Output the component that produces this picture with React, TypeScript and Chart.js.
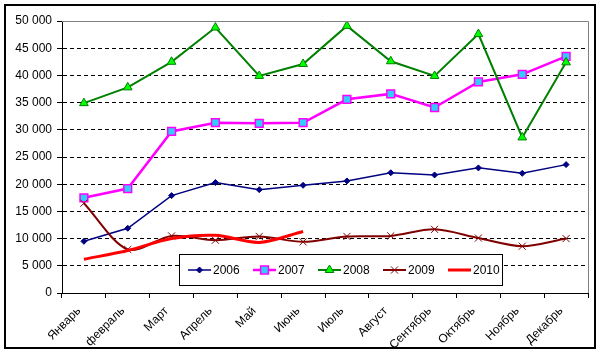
import React, { useEffect, useRef } from 'react';
import { Chart, registerables } from 'chart.js';

Chart.register(...registerables);

const months = ['Январь', 'февраль', 'Март', 'Апрель', 'Май', 'Июнь', 'Июль', 'Август', 'Сентябрь', 'Октябрь', 'Ноябрь', 'Декабрь'];
const seriesNames = ['2006', '2007', '2008', '2009', '2010'];
const s2006 = [9500, 11900, 17900, 20300, 19000, 19800, 20600, 22100, 21700, 23000, 22000, 23600];
const s2007 = [17500, 19200, 29700, 31300, 31200, 31300, 35600, 36600, 34100, 38800, 40200, 43500];
const s2008 = [34900, 37800, 42500, 48800, 39900, 42100, 49100, 42600, 39900, 47600, 28600, 42400];
const s2009 = [16500, 8000, 10500, 9700, 10400, 9400, 10400, 10500, 11700, 10100, 8600, 10000];
const s2010 = [6200, 7800, 10000, 10600, 9300, 11300];
const yMin = 0;
const yMax = 50000;
const yStep = 5000;

const FONT = 'Arial, "Liberation Sans", sans-serif';

const fmt = (v: number) => String(v).replace(/\B(?=(\d{3})+(?!\d))/g, ' ');

function drawMarker(ctx: CanvasRenderingContext2D, style: string, x: number, y: number, ds: any) {
  ctx.save();
  ctx.fillStyle = ds.pointBackgroundColor;
  ctx.strokeStyle = ds.pointBorderColor;
  ctx.lineWidth = ds.pointBorderWidth;
  const r = ds.pointRadius;
  ctx.beginPath();
  if (style === 'rectRot') {
    ctx.moveTo(x, y - r); ctx.lineTo(x + r, y); ctx.lineTo(x, y + r); ctx.lineTo(x - r, y); ctx.closePath();
    ctx.fill(); ctx.stroke();
  } else if (style === 'rect') {
    const s = r * Math.SQRT1_2;
    ctx.rect(x - s, y - s, 2 * s, 2 * s);
    ctx.fill(); ctx.stroke();
  } else if (style === 'triangle') {
    const w = r * Math.sqrt(3) / 2;
    ctx.moveTo(x, y - r); ctx.lineTo(x + w, y + r / 2); ctx.lineTo(x - w, y + r / 2); ctx.closePath();
    ctx.fill(); ctx.stroke();
  } else if (style === 'crossRot') {
    const s = r * Math.SQRT1_2;
    ctx.moveTo(x - s, y - s); ctx.lineTo(x + s, y + s);
    ctx.moveTo(x + s, y - s); ctx.lineTo(x - s, y + s);
    ctx.stroke();
  }
  ctx.restore();
}

const decorPlugin = {
  id: 'decor',
  afterDraw(chart: any) {
    const { ctx, chartArea } = chart;
    const { left, right, top, bottom } = chartArea;
    ctx.save();
    // plot area border (top & right)
    ctx.strokeStyle = '#808080';
    ctx.lineWidth = 1;
    ctx.beginPath();
    ctx.moveTo(left, Math.round(top) + 0.5);
    ctx.lineTo(Math.round(right) + 0.5, Math.round(top) + 0.5);
    ctx.lineTo(Math.round(right) + 0.5, bottom);
    ctx.stroke();

    // legend
    const bx = 179.5, by = 254.5, bw = 323, bh = 31;
    ctx.fillStyle = '#ffffff';
    ctx.fillRect(bx, by, bw, bh);
    ctx.strokeStyle = '#000';
    ctx.lineWidth = 1;
    ctx.strokeRect(bx, by, bw, bh);
    const ly = 270;
    chart.data.datasets.forEach((ds: any, i: number) => {
      const x0 = 188 + i * 65;
      const x1 = x0 + 23;
      ctx.save();
      ctx.strokeStyle = ds.borderColor;
      ctx.lineWidth = ds.borderWidth;
      ctx.beginPath();
      ctx.moveTo(x0, ly);
      ctx.lineTo(x1, ly);
      ctx.stroke();
      ctx.restore();
      if (ds.pointRadius > 0) drawMarker(ctx, ds.pointStyle, (x0 + x1) / 2, ly, ds);
      ctx.fillStyle = '#000';
      ctx.font = `12px ${FONT}`;
      ctx.textBaseline = 'middle';
      ctx.textAlign = 'left';
      ctx.fillText(ds.label, x1 + 2, ly + 0.5);
    });

    // outer border
    ctx.strokeStyle = '#000';
    ctx.lineWidth = 2;
    ctx.strokeRect(5, 5, 590, 343);
    ctx.restore();
  },
};

export default function App() {
  const ref = useRef<HTMLCanvasElement>(null);
  useEffect(() => {
    document.body.style.margin = '0';
    const canvas = ref.current!;
    const chart = new Chart(canvas, {
      type: 'line',
      data: {
        labels: months,
        datasets: [
          {
            label: seriesNames[0], data: s2006, borderColor: '#000080', borderWidth: 1.5,
            pointStyle: 'rectRot', pointRadius: 3, pointBackgroundColor: '#000080', pointBorderColor: '#000080', pointBorderWidth: 1,
            tension: 0, order: 5,
          },
          {
            label: seriesNames[1], data: s2007, borderColor: '#FF00FF', borderWidth: 2.5,
            pointStyle: 'rect', pointRadius: 5.5, pointBackgroundColor: '#33CCFF', pointBorderColor: '#FF00FF', pointBorderWidth: 1.5,
            tension: 0, order: 4,
          },
          {
            label: seriesNames[2], data: s2008, borderColor: '#008000', borderWidth: 2,
            pointStyle: 'triangle', pointRadius: 5, pointBackgroundColor: '#00FF00', pointBorderColor: '#008000', pointBorderWidth: 1,
            tension: 0, order: 3,
          },
          {
            label: seriesNames[3], data: s2009, borderColor: '#800000', borderWidth: 2,
            pointStyle: 'crossRot', pointRadius: 5, pointBackgroundColor: '#800000', pointBorderColor: '#800000', pointBorderWidth: 1,
            tension: 0.3, order: 2,
          },
          {
            label: seriesNames[4], data: s2010, borderColor: '#FF0000', borderWidth: 3,
            pointStyle: 'circle', pointRadius: 0, pointBackgroundColor: '#FF0000', pointBorderColor: '#FF0000', pointBorderWidth: 0,
            tension: 0.3, order: 1,
          },
        ] as any,
      },
      options: {
        responsive: false,
        animation: false,
        events: [],
        layout: { padding: { left: 0, right: 12, top: 21, bottom: 0 } },
        plugins: { legend: { display: false }, tooltip: { enabled: false }, title: { display: false } },
        scales: {
          x: {
            type: 'category',
            offset: true,
            grid: { drawOnChartArea: false, drawTicks: true, tickLength: 5, color: '#000', offset: true },
            border: { display: true, color: '#000', width: 1 },
            ticks: {
              minRotation: 45, maxRotation: 45, autoSkip: false, color: '#000', padding: 6, labelOffset: -5,
              font: { family: FONT, size: 12 },
            },
            afterFit: (s: any) => { s.height = 60; },
          },
          y: {
            min: yMin, max: yMax,
            ticks: {
              stepSize: yStep, color: '#000', padding: 5,
              font: { family: FONT, size: 12 },
              callback: (v: any) => fmt(Number(v)),
            },
            grid: {
              color: (c: any) => (c.tick && c.tick.value === yMax ? 'rgba(0,0,0,0)' : '#000'),
              tickColor: '#000', tickLength: 5, drawTicks: true, lineWidth: 1,
            },
            border: { display: true, color: '#000', width: 1, dash: [4, 3] },
            afterFit: (s: any) => { s.width = 62; },
          },
        },
      } as any,
      plugins: [decorPlugin],
    });
    return () => chart.destroy();
  }, []);
  return (
    <div style={{ width: 600, height: 353 }}>
      <canvas ref={ref} width={600} height={353} style={{ display: 'block' }} />
    </div>
  );
}
